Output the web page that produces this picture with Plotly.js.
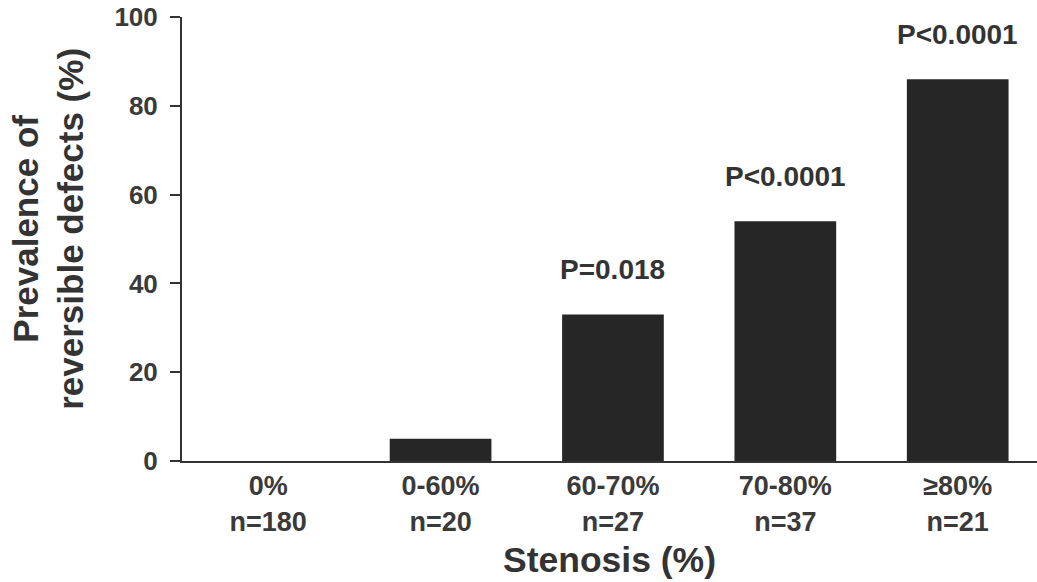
<!DOCTYPE html>
<html>
<head>
<meta charset="utf-8">
<script src="https://cdn.plot.ly/plotly-3.0.1.min.js"></script>
<style>html,body{margin:0;padding:0;background:#fff;}#chart{width:1037px;height:582px;}</style>
</head>
<body>
<div id="chart"></div>
<script>
const categories = ['0%', '0-60%', '60-70%', '70-80%', '\u226580%'];
const nLabels = ['n=180', 'n=20', 'n=27', 'n=37', 'n=21'];
const prevalence = [0, 5, 33, 54, 86];
const pLabels = ['', '', 'P=0.018', 'P<0.0001', 'P<0.0001'];
const yTicks = [0, 20, 40, 60, 80, 100];

const FONT = 'Liberation Sans, Arial, sans-serif';
const tickText = categories.map((c, i) => '<b>' + c + '</b><br><b>' + nLabels[i] + '</b>');

const trace = {
  type: 'bar',
  x: categories,
  y: prevalence,
  width: 0.59,
  marker: {color: '#262626', line: {width: 0}},
  hoverinfo: 'skip'
};

const annotations = [];
categories.forEach((c, i) => {
  if (pLabels[i]) {
    annotations.push({
      x: c, y: prevalence[i], xref: 'x', yref: 'y',
      text: '<b>' + pLabels[i] + '</b>', showarrow: false,
      yanchor: 'middle', yshift: 45,
      font: {family: FONT, size: 28, color: '#333333'}
    });
  }
});
// y-axis title drawn as a rotated annotation for exact placement
annotations.push({
  xref: 'paper', yref: 'paper', x: -0.157, y: 0.5225,
  xanchor: 'center', yanchor: 'middle', textangle: -90, showarrow: false,
  text: '<b>Prevalence of</b><br><b>reversible defects (%)</b>',
  font: {family: FONT, size: 35, color: '#333333'}
});

const layout = {
  width: 1037, height: 582,
  margin: {l: 182, r: 0, t: 17, b: 121, pad: 0},
  paper_bgcolor: '#ffffff', plot_bgcolor: '#ffffff',
  showlegend: false,
  font: {family: FONT, color: '#333333'},
  xaxis: {
    type: 'category',
    range: [-0.5, 4.46],
    tickvals: categories,
    ticktext: tickText,
    ticks: '',
    showline: true, linecolor: '#333333', linewidth: 2,
    showgrid: false, zeroline: false,
    tickfont: {family: FONT, size: 27, color: '#3a3a3a'},
    title: {text: '<b>Stenosis (%)</b>', font: {family: FONT, size: 35.5, color: '#333333'}, standoff: 12}
  },
  yaxis: {
    range: [0, 100],
    tickvals: yTicks,
    ticktext: yTicks.map(v => '<b>' + v + '</b>'),
    ticks: 'outside', ticklen: 10, tickwidth: 2, tickcolor: '#333333',
    ticklabelstandoff: 7,
    showline: true, linecolor: '#333333', linewidth: 2,
    showgrid: false, zeroline: false,
    tickfont: {family: FONT, size: 26, color: '#3a3a3a'}
  },
  annotations: annotations
};

Plotly.newPlot('chart', [trace], layout, {displayModeBar: false, staticPlot: true});
</script>
</body>
</html>
